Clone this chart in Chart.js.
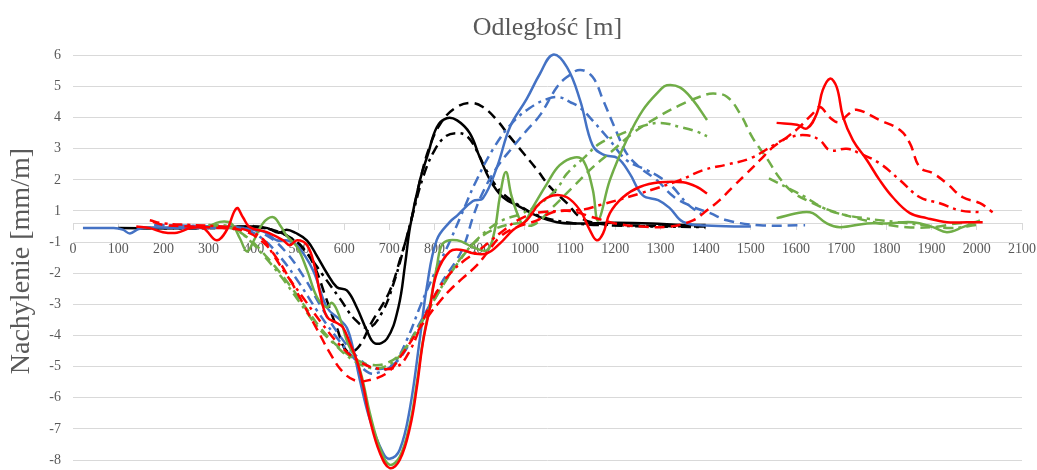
<!DOCTYPE html>
<html>
<head>
<meta charset="utf-8">
<script src="https://cdn.jsdelivr.net/npm/chart.js@4.4.1/dist/chart.umd.min.js"></script>
<style>
  html, body { margin: 0; padding: 0; background: #fff; overflow: hidden; }
  #wrap { width: 1037px; height: 470px; }
</style>
</head>
<body>
<div id="wrap"><canvas id="chart" width="1037" height="470"></canvas></div>
<script>
// distance [m] vs slope, pairs of [x, y]; null y = gap in the line
const blackSolid = [[100,-0.05],[200,-0.05],[300,-0.03],[400,0.0],[430,-0.05],[455,-0.2],[473,-0.1],[492,-0.2],[518,-0.45],[540,-0.95],[562,-1.5],[584,-1.95],[606,-2.05],[628,-2.6],[650,-3.33],[668,-3.75],[695,-3.6],[720,-2.6],[735,-1.2],[746,0.0],[768,1.5],[785,2.3],[805,3.19],[827,3.48],[850,3.41],[878,3.0],[900,2.23],[923,1.49],[951,0.95],[989,0.63],[1033,0.3],[1071,0.14],[1106,0.1],[1200,0.12],[1280,0.1],[1350,0.05],[1400,0.05]];
const blackDash = [[150,-0.05],[300,-0.05],[400,0.0],[440,-0.1],[480,-0.35],[510,-0.7],[535,-1.3],[560,-2.3],[585,-3.3],[606,-4.0],[630,-3.9],[660,-3.1],[700,-2.1],[725,-1.0],[745,0.0],[770,1.6],[790,2.6],[815,3.35],[845,3.8],[878,3.97],[907,3.84],[938,3.42],[967,2.88],[996,2.37],[1027,1.82],[1055,1.28],[1093,0.75],[1122,0.3],[1160,0.1],[1250,0.03],[1400,0.0]];
const blackDashDot = [[150,-0.05],[300,-0.05],[400,-0.02],[450,-0.15],[490,-0.45],[520,-0.9],[550,-1.5],[590,-2.3],[625,-3.0],[655,-3.25],[686,-2.7],[710,-1.8],[730,-0.8],[750,0.3],[775,1.6],[800,2.45],[825,2.9],[850,3.0],[872,2.9],[893,2.45],[915,1.8],[945,1.15],[985,0.7],[1030,0.35],[1100,0.12],[1200,0.03],[1400,-0.02]];

const blueSolid = [[22,-0.05],[90,-0.05],[110,-0.1],[126,-0.22],[145,-0.08],[170,-0.03],[250,-0.05],[350,-0.05],[420,-0.15],[451,-0.44],[475,-0.45],[496,-0.6],[531,-1.4],[562,-2.6],[591,-3.0],[606,-3.25],[619,-3.87],[635,-4.94],[657,-6.2],[686,-7.27],[701,-7.46],[723,-7.17],[746,-5.8],[768,-3.55],[783,-1.94],[805,-0.43],[834,0.15],[850,0.35],[885,0.82],[907,0.91],[938,1.9],[967,3.2],[1004,4.1],[1033,4.9],[1062,5.52],[1093,5.12],[1122,4.06],[1150,2.6],[1175,2.3],[1205,2.2],[1232,1.7],[1261,1.0],[1295,0.85],[1320,0.6],[1350,0.15],[1400,0.03],[1500,0.0]];
const blueDash = [[180,0.05],[300,0.0],[380,-0.05],[430,-0.3],[470,-0.8],[510,-1.6],[550,-2.6],[590,-3.5],[630,-4.2],[665,-4.55],[700,-4.5],[730,-4.1],[760,-3.3],[790,-2.5],[820,-1.7],[850,-1.05],[868,-0.5],[885,0.3],[907,1.1],[938,1.9],[973,2.55],[1004,3.09],[1033,3.57],[1071,4.48],[1093,4.8],[1122,5.03],[1150,4.8],[1173,4.06],[1204,3.0],[1225,2.35],[1254,1.9],[1292,1.49],[1330,0.95],[1372,0.63],[1410,0.43],[1447,0.2],[1520,0.04],[1620,0.04]];
const blueDashDot = [[180,0.05],[300,0.0],[380,-0.1],[420,-0.4],[460,-1.0],[500,-1.8],[540,-2.7],[580,-3.5],[620,-4.2],[655,-4.7],[680,-4.67],[710,-4.4],[740,-3.6],[770,-2.5],[800,-1.5],[830,-0.6],[860,0.4],[890,1.4],[930,2.5],[970,3.3],[1010,3.8],[1050,4.1],[1077,4.15],[1100,4.0],[1122,3.82],[1150,3.4],[1188,2.77],[1225,2.13],[1270,1.81],[1299,1.58],[1327,1.27],[1358,0.75],[1387,0.43],[1400,0.35]];

const greenSolid = [[300,0.0],[325,0.15],[350,0.1],[370,-0.4],[385,-0.8],[400,-0.45],[420,0.1],[443,0.3],[460,0.0],[473,-0.3],[496,-0.66],[518,-1.4],[540,-2.27],[562,-2.6],[572,-2.45],[584,-2.68],[597,-3.23],[608,-3.75],[628,-4.3],[642,-5.0],[657,-6.0],[679,-7.1],[700,-7.65],[723,-7.4],[746,-6.3],[761,-5.0],[774,-3.7],[790,-2.5],[805,-1.3],[819,-0.54],[850,-0.44],[885,-0.66],[916,-0.76],[932,-0.2],[945,1.0],[958,1.75],[970,1.0],[985,0.35],[996,0.1],[1018,0.63],[1049,1.38],[1077,1.97],[1110,2.22],[1130,2.1],[1150,1.2],[1162,0.2],[1188,1.49],[1225,2.77],[1261,3.74],[1299,4.38],[1314,4.54],[1343,4.47],[1372,4.06],[1403,3.42],[1480,null],[1557,0.27],[1615,0.46],[1637,0.43],[1668,0.1],[1697,-0.02],[1757,0.1],[1800,0.1],[1858,0.14],[1903,-0.02],[1934,-0.18],[1969,-0.02],[2007,0.2]];
const greenDash = [[300,0.05],[350,-0.05],[390,-0.4],[430,-1.0],[470,-1.7],[510,-2.5],[550,-3.3],[590,-3.9],[630,-4.3],[665,-4.45],[700,-4.35],[730,-4.0],[770,-3.1],[810,-2.1],[850,-1.2],[890,-0.5],[930,-0.1],[980,0.1],[1018,0.05],[1062,0.63],[1106,1.27],[1150,1.9],[1195,2.45],[1239,3.0],[1292,3.5],[1343,3.9],[1387,4.17],[1416,4.27],[1447,4.17],[1476,3.63],[1504,2.85],[1535,2.2],[1564,1.55],[1593,1.1],[1637,0.75],[1675,0.52],[1726,0.3],[1785,0.1],[1845,-0.02],[1903,-0.02],[1956,0.1],[2000,0.15]];
const greenDashDot = [[300,0.05],[350,0.0],[380,-0.3],[420,-0.9],[460,-1.6],[500,-2.4],[540,-3.2],[580,-3.8],[620,-4.3],[660,-4.55],[690,-4.5],[720,-4.2],[750,-3.6],[790,-2.6],[830,-1.6],[870,-0.8],[910,-0.2],[950,0.2],[990,0.4],[1030,0.7],[1070,1.2],[1093,1.7],[1130,2.2],[1166,2.67],[1217,3.0],[1254,3.2],[1299,3.33],[1343,3.2],[1380,3.05],[1403,2.9],[1470,null],[1540,1.55],[1580,1.25],[1620,0.95],[1660,0.6],[1700,0.4],[1760,0.25],[1820,0.15],[1880,0.05],[1940,-0.05],[2000,0.05]];

const redSolid = [[140,0.0],[170,-0.05],[199,-0.18],[230,-0.2],[260,-0.05],[288,-0.05],[318,-0.44],[340,-0.12],[362,0.59],[376,0.3],[391,-0.02],[429,-0.18],[465,-0.44],[480,-0.6],[496,-0.44],[518,-0.6],[535,-1.3],[546,-2.1],[562,-2.9],[584,-3.1],[597,-3.23],[613,-3.75],[628,-4.3],[642,-5.1],[657,-6.2],[679,-7.27],[701,-7.76],[723,-7.5],[746,-6.43],[761,-5.15],[774,-3.75],[790,-2.6],[805,-1.5],[834,-0.8],[863,-0.76],[885,-0.86],[916,-0.86],[945,-0.54],[973,-0.12],[1004,0.2],[1033,0.75],[1062,1.0],[1093,0.94],[1122,0.52],[1144,-0.12],[1159,-0.44],[1173,-0.22],[1188,0.43],[1217,0.94],[1254,1.27],[1299,1.42],[1350,1.42],[1381,1.27],[1403,1.06],[1480,null],[1557,3.33],[1602,3.27],[1624,3.15],[1646,3.63],[1659,4.38],[1675,4.75],[1690,4.48],[1704,3.52],[1726,2.77],[1757,2.13],[1785,1.49],[1814,0.94],[1852,0.43],[1889,0.27],[1934,0.14],[1978,0.14],[2013,0.14]];
const redDash = [[177,0.15],[200,0.05],[260,0.0],[330,-0.05],[380,-0.15],[420,-0.5],[450,-1.0],[480,-1.7],[510,-2.5],[540,-3.3],[570,-4.1],[597,-4.67],[625,-4.95],[650,-4.95],[695,-4.7],[730,-4.07],[761,-3.4],[790,-2.8],[812,-2.4],[834,-2.04],[863,-1.65],[894,-1.24],[916,-0.85],[945,-0.33],[982,-0.02],[1027,0.2],[1060,0.45],[1100,0.5],[1150,0.3],[1200,0.1],[1260,0.0],[1320,0.0],[1372,0.2],[1403,0.52],[1431,0.85],[1460,1.27],[1491,1.71],[1520,2.13],[1549,2.55],[1580,2.87],[1608,3.2],[1637,3.63],[1653,3.84],[1675,3.5],[1695,3.35],[1715,3.6],[1734,3.75],[1785,3.42],[1830,3.1],[1852,2.67],[1874,1.9],[1903,1.71],[1934,1.38],[1969,0.94],[2007,0.75],[2035,0.46]];
const redDashDot = [[170,0.2],[200,0.1],[260,0.05],[330,0.0],[380,-0.1],[420,-0.4],[443,-0.9],[470,-1.5],[510,-2.3],[550,-3.1],[590,-3.8],[630,-4.3],[670,-4.55],[717,-4.5],[745,-4.0],[775,-3.0],[805,-2.1],[835,-1.5],[865,-1.1],[895,-0.8],[925,-0.45],[955,-0.1],[990,0.25],[1030,0.45],[1080,0.5],[1130,0.55],[1166,0.69],[1254,1.06],[1343,1.49],[1394,1.81],[1450,2.0],[1500,2.2],[1557,2.67],[1586,2.87],[1624,2.93],[1653,2.77],[1675,2.45],[1712,2.5],[1741,2.35],[1785,2.03],[1830,1.49],[1874,0.94],[1918,0.75],[1962,0.52],[2007,0.46]];

// y gridlines sit on half units, labelled as Excel rounds them
const yTickValues = [-7.5,-6.5,-5.5,-4.5,-3.5,-2.5,-1.5,-0.5,0.5,1.5,2.5,3.5,4.5,5.5];
const yTickLabels = ['-8','-7','-6','-5','-4','-3','-2','-1','1','2','3','4','5','6'];

const BLACK = '#000000', BLUE = '#4472C4', GREEN = '#70AD47', RED = '#FF0000';
const SOLID = [], DASH = [10, 6], DASHDOT = [10, 5, 3, 5];
const GREY = '#595959';

function series(name, pts, color, dash) {
  return {
    label: name,
    data: pts.map(p => ({ x: p[0], y: p[1] })),
    borderColor: color,
    backgroundColor: color,
    borderWidth: 2.5,
    borderDash: dash,
    pointRadius: 0,
    tension: 0.4,
    fill: false,
    spanGaps: false
  };
}

Chart.defaults.font.family = "'Liberation Serif', 'Times New Roman', serif";

const chart = new Chart(document.getElementById('chart'), {
  type: 'line',
  data: {
    datasets: [
      series('red', redSolid, RED, SOLID),
      series('red dash', redDash, RED, DASH),
      series('red dash-dot', redDashDot, RED, DASHDOT),
      series('green', greenSolid, GREEN, SOLID),
      series('green dash', greenDash, GREEN, DASH),
      series('green dash-dot', greenDashDot, GREEN, DASHDOT),
      series('blue', blueSolid, BLUE, SOLID),
      series('blue dash', blueDash, BLUE, DASH),
      series('blue dash-dot', blueDashDot, BLUE, DASHDOT),
      series('black', blackSolid, BLACK, SOLID),
      series('black dash', blackDash, BLACK, DASH),
      series('black dash-dot', blackDashDot, BLACK, DASHDOT)
    ]
  },
  options: {
    responsive: false,
    devicePixelRatio: 1,
    animation: false,
    layout: { padding: { left: 0, right: 15, top: 0, bottom: 0 } },
    plugins: {
      legend: { display: false },
      tooltip: { enabled: false },
      title: {
        display: true,
        fullSize: false,
        text: 'Odległość [m]',
        color: GREY,
        font: { size: 26, weight: 'normal' },
        padding: { top: 13, bottom: 8 }
      }
    },
    scales: {
      x: {
        type: 'linear',
        min: 0,
        max: 2100,
        position: { y: 0.1 },
        ticks: {
          stepSize: 100,
          autoSkip: false,
          maxRotation: 0,
          color: GREY,
          font: { size: 14 },
          padding: 11,
          callback: (value) => String(value)
        },
        grid: { drawOnChartArea: false, drawTicks: true, tickLength: 6, color: '#d9d9d9' },
        border: { display: true, color: '#d9d9d9', width: 1 },
        afterFit(scale) {
          scale.paddingLeft = 0; scale.paddingRight = 0;
          scale.paddingTop = 0; scale.paddingBottom = 0;
        }
      },
      y: {
        type: 'linear',
        min: -7.82,
        max: 5.6,
        afterBuildTicks(scale) {
          scale.ticks = yTickValues.map(v => ({ value: v }));
        },
        ticks: {
          color: GREY,
          font: { size: 14 },
          padding: 12,
          callback: (value, index) => yTickLabels[index]
        },
        grid: { color: '#d9d9d9', lineWidth: 1, drawTicks: false },
        border: { display: false },
        title: {
          display: true,
          text: 'Nachylenie [mm/m]',
          color: GREY,
          font: { size: 28 },
          padding: { top: 5, bottom: 0 }
        },
        afterFit(scale) {
          scale.width = 73;
          scale.paddingTop = 0; scale.paddingBottom = 0;
        }
      }
    }
  }
});
</script>
</body>
</html>
